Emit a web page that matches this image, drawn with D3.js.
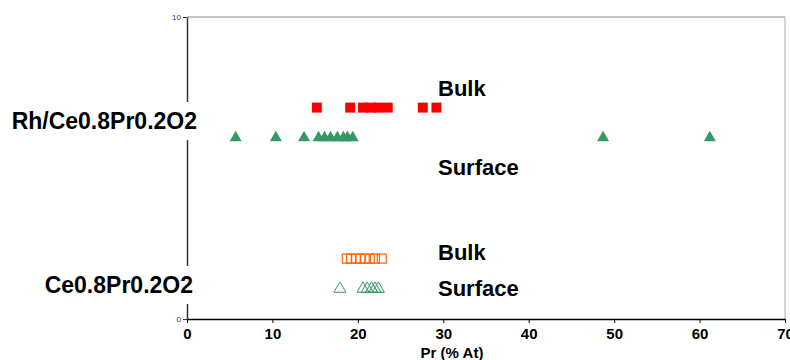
<!DOCTYPE html>
<html>
<head>
<meta charset="utf-8">
<script src="https://d3js.org/d3.v7.min.js"></script>
<style>
  body { margin: 0; background: #fff; }
  text { font-family: "Liberation Sans", Arial, sans-serif; }
</style>
</head>
<body>
<div id="chart"></div>
<script>
// Pr content (% At)
var rhBulk = [15.2, 19.1, 20.6, 21.5, 22.4, 23.5, 27.6, 29.2];
var rhSurface = [5.7, 10.4, 13.7, 15.4, 16.1, 16.8, 17.6, 18.3, 18.8, 19.4, 48.7, 61.2];
var ceBulk = [18.7, 19.2, 19.8, 20.3, 20.8, 21.4, 22.0, 22.8];
var ceSurface = [17.9, 20.6, 21.1, 21.6, 22.0, 22.4];

// row level on the (hidden) 0-10 y scale
var rowLevels = { rhBulk: 7, rhSurface: 6, ceBulk: 2, ceSurface: 1 };
var xTicks = [0, 10, 20, 30, 40, 50, 60, 70];
var yTicks = [0, 10];

var width = 790, height = 360;

var x = d3.scaleLinear().domain([0, 70]).range([187, 785]);
var y = d3.scaleLinear().domain([0, 10]).range([319, 17]);

var svg = d3.select('#chart')
  .append('svg')
  .attr('width', width)
  .attr('height', height);

// plot border (top and right)
svg.append('line')
  .attr('x1', x(0)).attr('x2', x(70))
  .attr('y1', y(10)).attr('y2', y(10))
  .attr('stroke', '#888').attr('stroke-width', 1);
svg.append('line')
  .attr('x1', x(70)).attr('x2', x(70))
  .attr('y1', y(10)).attr('y2', y(0))
  .attr('stroke', '#aaa').attr('stroke-width', 1);

// x axis
var xAxis = svg.append('g')
  .attr('transform', 'translate(0,' + y(0) + ')')
  .call(d3.axisBottom(x).tickValues(xTicks).tickSize(4).tickSizeOuter(0));
xAxis.select('.domain').attr('stroke', '#000').attr('stroke-width', 1.5);
xAxis.selectAll('.tick line').attr('stroke', '#000');
xAxis.selectAll('.tick text')
  .attr('y', 9)
  .style('font-size', '15px')
  .style('font-weight', 'bold')
  .style('font-family', '"Liberation Sans", Arial, sans-serif')
  .attr('fill', '#000');

// y axis
var yAxis = svg.append('g')
  .attr('transform', 'translate(' + x(0) + ',0)')
  .call(d3.axisLeft(y).tickValues(yTicks).tickSize(4).tickSizeOuter(0));
yAxis.select('.domain').attr('stroke', '#333').attr('stroke-width', 1.5);
yAxis.selectAll('.tick line').attr('stroke', '#333');
yAxis.selectAll('.tick text')
  .attr('x', -6)
  .style('font-size', '8px')
  .style('font-family', '"Liberation Sans", Arial, sans-serif')
  .attr('fill', '#333');

svg.append('text')
  .attr('x', 452).attr('y', 358)
  .attr('text-anchor', 'middle')
  .style('font-size', '15px')
  .style('font-weight', 'bold')
  .text('Pr (% At)');

// sample labels, with white box over the y axis
function sampleLabel(txt, xr, yb) {
  var g = svg.append('g');
  var rect = g.append('rect').attr('fill', '#fff');
  var t = g.append('text')
    .attr('x', xr).attr('y', yb)
    .attr('text-anchor', 'end')
    .style('font-size', '23px')
    .style('font-weight', 'bold')
    .text(txt);
  var b = t.node().getBBox();
  rect.attr('x', b.x - 2).attr('y', b.y - 6)
    .attr('width', b.width + 6).attr('height', b.height + 12);
}
sampleLabel('Rh/Ce0.8Pr0.2O2', 197, 129);
sampleLabel('Ce0.8Pr0.2O2', 193, 293);

// Bulk / Surface labels
var rowLabels = [
  { text: 'Bulk', yb: 96 },
  { text: 'Surface', yb: 175 },
  { text: 'Bulk', yb: 260 },
  { text: 'Surface', yb: 296 }
];
svg.selectAll('.rowlabel')
  .data(rowLabels)
  .enter()
  .append('text')
  .attr('class', 'rowlabel')
  .attr('x', 438)
  .attr('y', function(d) { return d.yb; })
  .style('font-size', '22px')
  .style('font-weight', 'bold')
  .text(function(d) { return d.text; });

var square = d3.symbol().type(d3.symbolSquare);
var triangle = d3.symbol().type(d3.symbolTriangle);
var triArea = function(s) { return Math.sqrt(3) / 4 * s * s; };

// Rh bulk: filled red squares
svg.append('g').selectAll('path')
  .data(rhBulk)
  .enter()
  .append('path')
  .attr('d', square.size(100)())
  .attr('transform', function(d) { return 'translate(' + x(d) + ',' + y(rowLevels.rhBulk) + ')'; })
  .attr('fill', '#ff0000');

// Rh surface: filled green triangles
svg.append('g').selectAll('path')
  .data(rhSurface)
  .enter()
  .append('path')
  .attr('d', triangle.size(triArea(12))())
  .attr('transform', function(d) { return 'translate(' + x(d) + ',' + y(rowLevels.rhSurface) + ')'; })
  .attr('fill', '#339966');

// Ce bulk: open orange squares
svg.append('g').selectAll('path')
  .data(ceBulk)
  .enter()
  .append('path')
  .attr('d', square.size(81)())
  .attr('transform', function(d) { return 'translate(' + x(d) + ',' + y(rowLevels.ceBulk) + ')'; })
  .attr('fill', 'none')
  .attr('stroke', '#ff6600')
  .attr('stroke-width', 1.2);

// Ce surface: open green triangles
svg.append('g').selectAll('path')
  .data(ceSurface)
  .enter()
  .append('path')
  .attr('d', triangle.size(triArea(12))())
  .attr('transform', function(d) { return 'translate(' + x(d) + ',' + y(rowLevels.ceSurface) + ')'; })
  .attr('fill', 'none')
  .attr('stroke', '#339966')
  .attr('stroke-width', 1);
</script>
</body>
</html>
